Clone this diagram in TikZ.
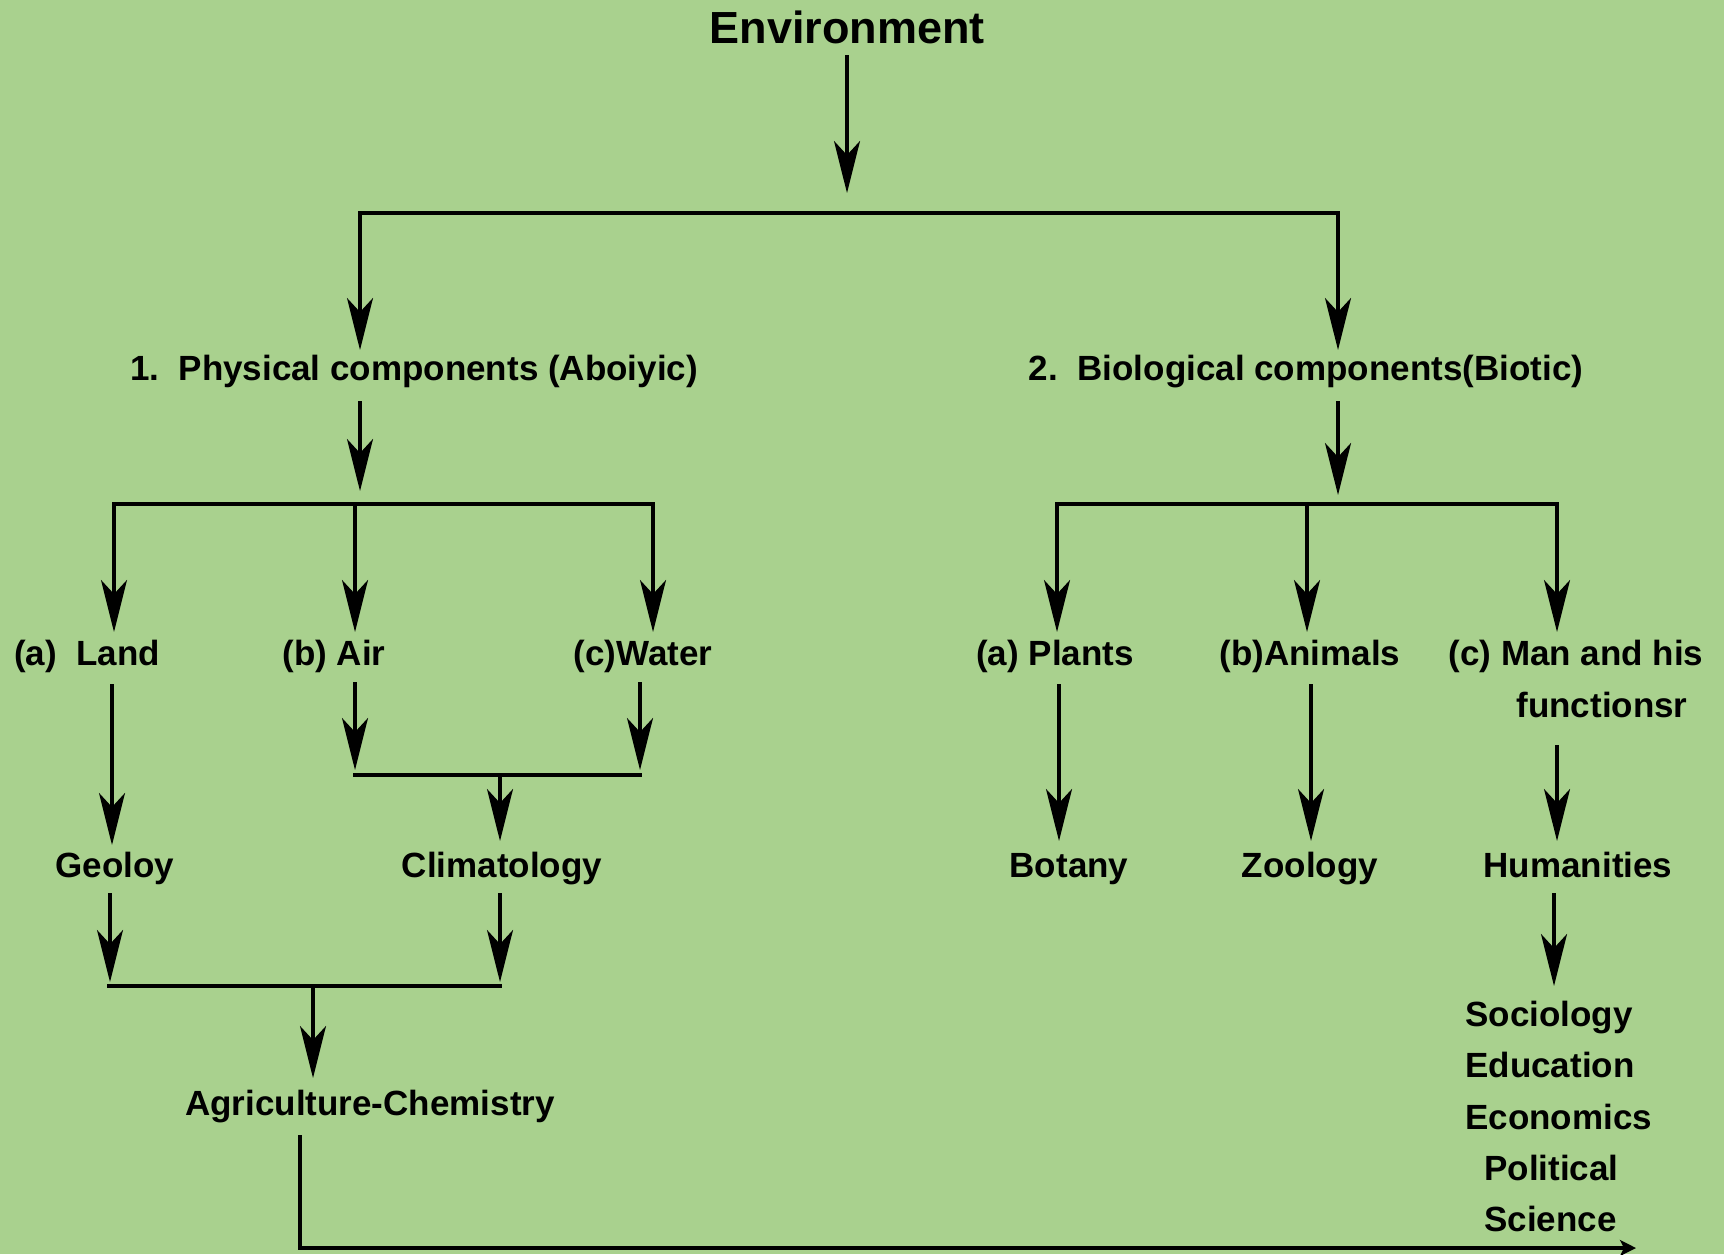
\documentclass[tikz,border=0pt]{standalone}
\usepackage{fontspec}
\setmainfont{Liberation Sans}
\usetikzlibrary{arrows.meta}
\definecolor{bg}{HTML}{A9D18E}
\begin{document}
\begin{tikzpicture}[x=0.5pt,y=-0.5pt,
  lbl/.style={anchor=base,inner sep=0pt,font=\fontsize{17.5}{21}\selectfont\bfseries},
  lst/.style={lbl,anchor=base west},
  ln/.style={line width=1.6pt,line cap=rect},
  arr/.style={line width=1.6pt,-{Stealth[length=26pt,width=13pt,inset=7pt]}},
  arrs/.style={line width=1.6pt,-{Stealth[length=8pt,width=8pt,inset=2pt]}}]
\fill[bg] (0,0) rectangle (1724,1254);
\useasboundingbox (0,0) rectangle (1724,1254);
% nodes
\node[lbl,font=\fontsize{22.5}{27}\selectfont\bfseries] (env) at (847,43) {Environment};
\node[lbl] (phys) at (414,380) {1.\hspace{0.556em}Physical components (Aboiyic)};
\node[lbl] (bio) at (1306,380) {2.\hspace{0.556em}Biological components(Biotic)};
\node[lbl] (land) at (87,665) {(a)\hspace{0.556em}Land};
\node[lbl] (air) at (334,665) {(b) Air};
\node[lbl] (water) at (643,665) {(c)Water};
\node[lbl] (plants) at (1055,665) {(a) Plants};
\node[lbl] (animals) at (1310,665) {(b)Animals};
\node[lbl] (man) at (1576,665) {(c) Man and his};
\node[lbl] (func) at (1602,717) {functionsr};
\node[lbl] (geo) at (115,877) {Geoloy};
\node[lbl] (clim) at (502,877) {Climatology};
\node[lbl] (bot) at (1069,877) {Botany};
\node[lbl] (zoo) at (1310,877) {Zoology};
\node[lbl] (hum) at (1578,877) {Humanities};
\node[lbl] (agri) at (370,1115) {Agriculture-Chemistry};
\node[lst] (soc) at (1465,1026) {Sociology};
\node[lst] (edu) at (1465,1077) {Education};
\node[lst] (eco) at (1465,1129) {Economics};
\node[lst] (pol) at (1484,1180) {Political};
\node[lst] (sci) at (1484,1231) {Science};
% coordinates
\coordinate (envS) at (847,55);   \coordinate (envT) at (847,193);
\coordinate (jTL) at (360,213);   \coordinate (jTR) at (1338,213);
\coordinate (physT) at (360,350); \coordinate (bioT) at (1338,350);
\coordinate (physS) at (360,401); \coordinate (physE) at (360,491);
\coordinate (jPL) at (114,504);   \coordinate (jPR) at (653,504); \coordinate (jPM) at (355,504);
\coordinate (landT) at (114,632); \coordinate (airT) at (355,632); \coordinate (waterT) at (653,632);
\coordinate (landS) at (112,684); \coordinate (geoT) at (112,845);
\coordinate (airS) at (355,682);  \coordinate (airE) at (355,770);
\coordinate (waterS) at (640,682);\coordinate (waterE) at (640,770);
\coordinate (jAL) at (355,775);   \coordinate (jAR) at (640,775); \coordinate (jAM) at (500,775);
\coordinate (climT) at (500,841);
\coordinate (geoS) at (110,893);  \coordinate (geoE) at (110,982);
\coordinate (climS) at (500,893); \coordinate (climE) at (500,982);
\coordinate (jGL) at (109,986);   \coordinate (jGR) at (500,986); \coordinate (jGM) at (313,986);
\coordinate (agriT) at (313,1078);
\coordinate (agriS) at (300,1135);\coordinate (jB) at (300,1248); \coordinate (endB) at (1636,1248);
\coordinate (bioS) at (1338,401); \coordinate (bioE) at (1338,495);
\coordinate (jBL) at (1057,504);  \coordinate (jBR) at (1557,504); \coordinate (jBM) at (1307,504);
\coordinate (plantsT) at (1057,632); \coordinate (animalsT) at (1307,632); \coordinate (manT) at (1557,632);
\coordinate (plantsS) at (1059,684); \coordinate (botT) at (1059,841);
\coordinate (animalsS) at (1311,684);\coordinate (zooT) at (1311,841);
\coordinate (manS) at (1557,745);    \coordinate (humT) at (1557,841);
\coordinate (humS) at (1554,893);    \coordinate (humE) at (1554,986);
% connectors
\draw[arr] (envS) -- (envT);
\draw[ln] (jTL) -- (jTR);
\draw[arr] (jTL) -- (physT);
\draw[arr] (jTR) -- (bioT);
\draw[arr] (physS) -- (physE);
\draw[ln] (jPL) -- (jPR);
\draw[arr] (jPL) -- (landT);
\draw[arr] (jPM) -- (airT);
\draw[arr] (jPR) -- (waterT);
\draw[arr] (landS) -- (geoT);
\draw[arr] (airS) -- (airE);
\draw[arr] (waterS) -- (waterE);
\draw[ln] (jAL) -- (jAR);
\draw[arr] (jAM) -- (climT);
\draw[arr] (geoS) -- (geoE);
\draw[arr] (climS) -- (climE);
\draw[ln] (jGL) -- (jGR);
\draw[arr] (jGM) -- (agriT);
\draw[arrs] (agriS) -- (jB) -- (endB);
\draw[arr] (bioS) -- (bioE);
\draw[ln] (jBL) -- (jBR);
\draw[arr] (jBL) -- (plantsT);
\draw[arr] (jBM) -- (animalsT);
\draw[arr] (jBR) -- (manT);
\draw[arr] (plantsS) -- (botT);
\draw[arr] (animalsS) -- (zooT);
\draw[arr] (manS) -- (humT);
\draw[arr] (humS) -- (humE);
\end{tikzpicture}
\end{document}
